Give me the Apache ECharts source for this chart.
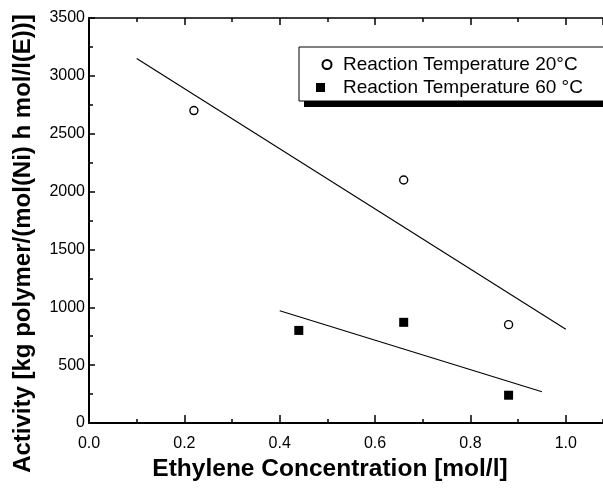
<!DOCTYPE html>
<html>
<head>
<meta charset="utf-8">
<script src="https://cdn.jsdelivr.net/npm/echarts@6/dist/echarts.min.js"></script>
<style>
html,body{margin:0;padding:0;background:#fff;}
#chart{width:603px;height:490px;}
</style>
</head>
<body>
<div id="chart"></div>
<script>
// Data
const conc20 = [0.22, 0.66, 0.88];
const act20 = [2700, 2100, 850];
const conc60 = [0.44, 0.66, 0.88];
const act60 = [800, 870, 240];
const fit20X = [0.1, 1.0];
const fit20Y = [3150, 810];
const fit60X = [0.4, 0.95];
const fit60Y = [970, 270];
const name20 = 'Reaction Temperature 20°C';
const name60 = 'Reaction Temperature 60 °C';
const xTitle = 'Ethylene Concentration [mol/l]';
const yTitle = 'Activity [kg polymer/(mol(Ni) h mol/l(E))]';
const xMax = 1.078;

const pairs = (xs, ys) => xs.map((x, i) => [x, ys[i]]);
const FONT = 'Liberation Sans';
const black = '#000';

const tickAxis = (pos, interval, len, showLine, lw) => ({
  type: 'value', position: pos, min: 0, max: xMax, interval: interval,
  axisLine: {show: showLine, onZero: false, lineStyle: {color: black, width: lw}},
  axisTick: {show: true, inside: true, length: len, lineStyle: {color: black, width: 1.5}},
  axisLabel: {show: false},
  splitLine: {show: false}
});

const chart = echarts.init(document.getElementById('chart'), null, {renderer: 'canvas'});
chart.setOption({
  animation: false,
  backgroundColor: '#fff',
  textStyle: {fontFamily: FONT, color: black},
  grid: {left: 89, top: 18, bottom: 67, right: 0, containLabel: false},
  graphic: [{
    type: 'rect', z: 0, silent: true,
    shape: {x: 304, y: 53, width: 300, height: 54},
    style: {fill: black}
  }],
  legend: {
    data: [{name: name20, icon: 'circle'}, {name: name60, icon: 'square'}],
    orient: 'vertical',
    left: 299, top: 47, z: 10,
    padding: [8, 23, 4, 17],
    itemGap: 4,
    itemWidth: 22, itemHeight: 9,
    backgroundColor: '#fff',
    borderColor: black, borderWidth: 1, borderRadius: 0,
    textStyle: {fontFamily: FONT, fontSize: 19, color: black},
    selectedMode: false
  },
  xAxis: [{
    type: 'value', position: 'bottom', min: 0, max: xMax, interval: 0.2,
    name: xTitle, nameLocation: 'middle', nameGap: 34,
    nameTextStyle: {fontFamily: FONT, fontSize: 24.5, fontWeight: 'bold', color: black,
      padding: [0, 32, 0, 0]},
    axisLine: {show: true, onZero: false, lineStyle: {color: black, width: 2}},
    axisTick: {show: true, inside: true, length: 8, lineStyle: {color: black, width: 1.5}},
    axisLabel: {fontFamily: FONT, fontSize: 16, color: black, margin: 13,
      showMaxLabel: false, formatter: v => v.toFixed(1)},
    splitLine: {show: false}
  },
  tickAxis('bottom', 0.1, 4, false, 2),
  tickAxis('top', 0.2, 7, true, 1.5),
  tickAxis('top', 0.1, 4, false, 1.5)],
  yAxis: {
    type: 'value', min: 0, max: 3500, interval: 500,
    name: yTitle, nameLocation: 'middle', nameGap: 54,
    nameTextStyle: {fontFamily: FONT, fontSize: 24, fontWeight: 'bold', color: black,
      padding: [0, 46, 0, 0]},
    axisLine: {show: true, onZero: false, lineStyle: {color: black, width: 2}},
    axisTick: {show: true, inside: true, length: 6, lineStyle: {color: black, width: 1.5}},
    minorTick: {show: true, splitNumber: 2, length: 4, lineStyle: {color: black, width: 1.5}},
    axisLabel: {fontFamily: FONT, fontSize: 16, color: black, margin: 4,
      formatter: v => String(v)},
    splitLine: {show: false}
  },
  series: [
    {
      name: 'fit20', type: 'line', data: pairs(fit20X, fit20Y),
      showSymbol: false, symbol: 'none',
      lineStyle: {color: black, width: 1.1}, z: 2, silent: true
    },
    {
      name: 'fit60', type: 'line', data: pairs(fit60X, fit60Y),
      showSymbol: false, symbol: 'none',
      lineStyle: {color: black, width: 1.1}, z: 2, silent: true
    },
    {
      name: name20, type: 'scatter', data: pairs(conc20, act20),
      symbol: 'circle', symbolSize: 8,
      itemStyle: {color: '#fff', borderColor: black, borderWidth: 1.4, opacity: 1}, z: 3
    },
    {
      name: name60, type: 'scatter', data: pairs(conc60, act60),
      symbol: 'rect', symbolSize: 9,
      itemStyle: {color: black, opacity: 1}, z: 3
    }
  ]
});
</script>
</body>
</html>
